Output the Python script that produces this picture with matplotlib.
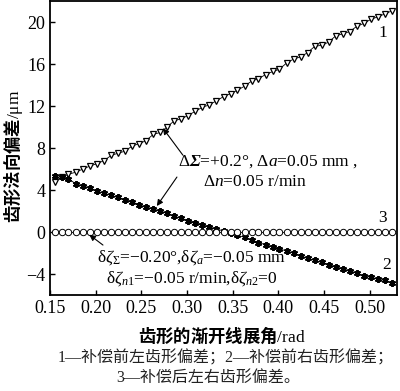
import matplotlib
matplotlib.use('Agg')
import matplotlib.pyplot as plt

plt.rcParams['font.family'] = ['Liberation Serif', 'Noto Sans CJK SC']
plt.rcParams['mathtext.fontset'] = 'custom'
plt.rcParams['mathtext.rm'] = 'Liberation Serif'
plt.rcParams['mathtext.it'] = 'Liberation Serif:italic'
plt.rcParams['mathtext.bf'] = 'Liberation Serif:bold:italic'
plt.rcParams['axes.unicode_minus'] = True

# involute roll angle, rad
x = [0.155, 0.163, 0.170, 0.178, 0.186, 0.194, 0.201, 0.209, 0.217, 0.224,
     0.232, 0.240, 0.247, 0.255, 0.263, 0.271, 0.278, 0.286, 0.294, 0.301,
     0.309, 0.317, 0.324, 0.332, 0.340, 0.348, 0.355, 0.363, 0.371, 0.378,
     0.386, 0.394, 0.401, 0.409, 0.417, 0.425, 0.432, 0.440, 0.448, 0.455,
     0.463, 0.471, 0.478, 0.486, 0.494, 0.502, 0.509, 0.517, 0.525]

# 1: left flank before compensation
left_before = [4.8, 5.2, 5.5, 5.7, 6.0, 6.3, 6.5, 6.8, 7.3, 7.5,
               7.7, 8.2, 8.4, 8.7, 9.3, 9.5, 10.0, 10.6, 10.8, 11.1,
               11.5, 11.9, 12.1, 12.5, 12.9, 13.2, 13.5, 13.9, 14.4, 14.6,
               15.0, 15.3, 15.5, 16.1, 16.5, 16.7, 17.1, 17.7, 17.8, 18.1,
               18.7, 18.9, 19.1, 19.6, 19.9, 20.3, 20.5, 20.8, 21.1]

# 2: right flank before compensation
right_before = [5.3, 5.2, 5.1, 4.6, 4.4, 4.2, 3.9, 3.7, 3.5, 3.3,
                3.1, 2.9, 2.6, 2.4, 2.2, 2.0, 1.8, 1.5, 1.3, 1.1,
                0.9, 0.7, 0.5, 0.3, 0.1, -0.1, -0.3, -0.5, -0.8, -1.0,
                -1.2, -1.4, -1.6, -1.8, -2.0, -2.3, -2.5, -2.7, -2.9, -3.1,
                -3.3, -3.5, -3.7, -3.9, -4.2, -4.3, -4.5, -4.6, -4.9]

# 3: both flanks after compensation
after = [0.0] * 49

xticks = [0.15, 0.20, 0.25, 0.30, 0.35, 0.40, 0.45, 0.50]
yticks = [-4, 0, 4, 8, 12, 16, 20]

fig = plt.figure(figsize=(4, 3.91), dpi=100)
ax = fig.add_axes([0.125, 0.2455, 0.8675, 0.7515])

ax.plot(x, left_before, '-v', color='black', lw=0.6, ms=5,
        mfc='white', mec='black', mew=0.9)
ax.plot(x, right_before, '-', marker=(6, 2, 0), color='black', lw=0.6,
        ms=5, mec='black', mew=1.4)
ax.plot(x, after, '-o', color='black', lw=0.6, ms=4.6,
        mfc='white', mec='black', mew=0.7)

ax.set_xlim(0.15, 0.53)
ax.set_ylim(-6, 22)
ax.set_xticks(xticks)
ax.set_xticklabels(['{:.2f}'.format(t) for t in xticks])
ax.set_yticks(yticks)
ax.tick_params(direction='in', length=3.5, width=1.0, labelsize=13,
               top=False, right=False)
for s in ax.spines.values():
    s.set_linewidth(1.3)

ax.text(0.514, 19.0, '1', fontsize=12.5, ha='center', va='center')
ax.text(0.514, 1.3, '3', fontsize=12.5, ha='center', va='center')
ax.text(0.519, -3.1, '2', fontsize=12.5, ha='center', va='center')

ax.text(0.3885, 6.67,
        r'$\Delta\mathbf{\Sigma}$=+0.2°, $\Delta a$=0.05 mm ,',
        fontsize=12.5, ha='center', va='center')
ax.text(0.374, 4.76, r'$\Delta n$=0.05 r/min',
        fontsize=12.5, ha='center', va='center')

arrow = dict(arrowstyle='-|>', color='black', lw=0.8,
             mutation_scale=9, shrinkA=0, shrinkB=0)
ax.annotate('', xy=(0.2736, 9.9), xytext=(0.2955, 7.33), arrowprops=arrow)
ax.annotate('', xy=(0.267, 2.48), xytext=(0.289, 5.24), arrowprops=arrow)
ax.annotate('', xy=(0.193, -0.25), xytext=(0.208, -1.24), arrowprops=arrow)

ax.text(0.305, -2.4,
        r'$\mathrm{\delta}\zeta_{\mathit{\Sigma}}$=−0.20°,'
        r'$\mathrm{\delta}\zeta_{a}$=−0.05 mm',
        fontsize=12.5, ha='center', va='center')
ax.text(0.305, -4.4,
        r'$\mathrm{\delta}\zeta_{n1}$=−0.05 r/min,'
        r'$\mathrm{\delta}\zeta_{n2}$=0',
        fontsize=12.5, ha='center', va='center')

cjk = ['Noto Sans CJK SC', 'DejaVu Sans']
fig.text(0.033, 0.60, r'齿形法向偏差$\mathrm{/\mu m}$', rotation=90,
         fontsize=12.5, fontweight='bold', family=cjk,
         ha='center', va='center')
fig.text(0.555, 1 - 335 / 391, r'齿形的渐开线展角$\mathrm{/rad}$',
         fontsize=12.5, fontweight='bold', family=cjk,
         ha='center', va='center')
fig.text(0.565, 1 - 358 / 391, '1—补偿前左齿形偏差；2—补偿前右齿形偏差；',
         fontsize=11.5, family=['Liberation Serif', 'Noto Sans CJK SC'],
         ha='center', va='center', color='#222222')
fig.text(0.52, 1 - 378 / 391, '3—补偿后左右齿形偏差。',
         fontsize=11.5, family=['Liberation Serif', 'Noto Sans CJK SC'],
         ha='center', va='center', color='#222222')

fig.savefig('out.png', dpi=100)
